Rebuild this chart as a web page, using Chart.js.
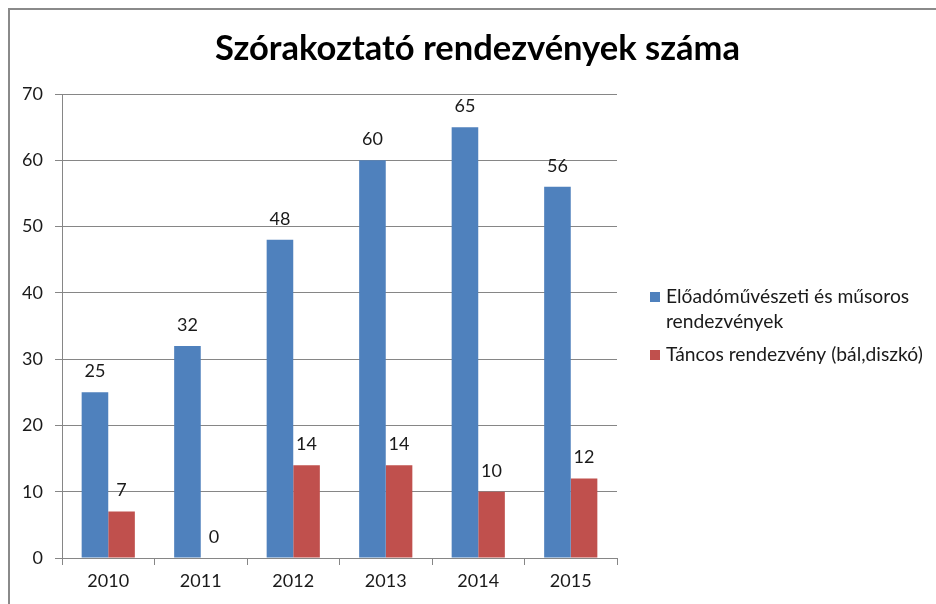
<!DOCTYPE html>
<html><head><meta charset="utf-8">
<script src="https://cdn.jsdelivr.net/npm/chart.js@4/dist/chart.umd.min.js"></script>
<style>html,body{margin:0;padding:0;background:#fff}#wrap{width:936px;height:604px;position:relative}canvas{display:block}</style>
</head><body><div id="wrap"><canvas id="c" width="936" height="604"></canvas></div>
<script>
const categories = ['2010', '2011', '2012', '2013', '2014', '2015'];
const performingArts = [25, 32, 48, 60, 65, 56];
const danceEvents = [7, 0, 14, 14, 10, 12];
const seriesNames = ['Előadóművészeti és műsoros rendezvények', 'Táncos rendezvény (bál,diszkó)'];
const legendLines = [['Előadóművészeti és műsoros', 'rendezvények'], ['Táncos rendezvény (bál,diszkó)']];
const yTicks = [0, 10, 20, 30, 40, 50, 60, 70];
const titleText = 'Szórakoztató rendezvények száma';

const FAMILY = 'Lato, "Open Sans", "DejaVu Sans", sans-serif';
const BLUE = '#4F81BD', RED = '#C0504D', GRID = '#868686', TEXT = '#1a1a1a';

function fitSize(ctx, text, weight, target) {
  ctx.font = weight + ' 100px ' + FAMILY;
  return 100 * target / ctx.measureText(text).width;
}

const decor = {
  id: 'decor',
  beforeDraw(chart) {
    const ctx = chart.ctx;
    ctx.save();
    ctx.fillStyle = '#fff';
    ctx.fillRect(0, 0, chart.width, chart.height);
    ctx.strokeStyle = '#8a8a8a';
    ctx.lineWidth = 2;
    ctx.beginPath();
    ctx.moveTo(9, 604); ctx.lineTo(9, 9); ctx.lineTo(936, 9);
    ctx.stroke();
    ctx.restore();
  },
  afterDraw(chart) {
    const ctx = chart.ctx;
    ctx.save();
    const ts = fitSize(ctx, titleText, 'bold', 525);
    ctx.font = 'bold ' + ts.toFixed(2) + 'px ' + FAMILY;
    ctx.fillStyle = '#000';
    ctx.textAlign = 'center';
    ctx.textBaseline = 'alphabetic';
    ctx.fillText(titleText, 477.5, 60);
    const ls = fitSize(ctx, legendLines[1][0], 'normal', 257);
    ctx.font = ls.toFixed(2) + 'px ' + FAMILY;
    ctx.textAlign = 'left';
    ctx.textBaseline = 'middle';
    const colors = [BLUE, RED];
    const ys = [297, 355];
    legendLines.forEach((lines, i) => {
      ctx.fillStyle = colors[i];
      ctx.fillRect(650, ys[i] - 5, 10, 10);
      ctx.fillStyle = TEXT;
      lines.forEach((ln, j) => ctx.fillText(ln, 666, ys[i] + j * 25));
    });
    ctx.restore();
  },
  afterDatasetsDraw(chart) {
    const ctx = chart.ctx;
    ctx.save();
    ctx.font = '18px ' + FAMILY;
    ctx.fillStyle = TEXT;
    ctx.textAlign = 'center';
    ctx.textBaseline = 'middle';
    chart.data.datasets.forEach((ds, i) => {
      chart.getDatasetMeta(i).data.forEach((el, j) => {
        ctx.fillText(String(ds.data[j]), el.x, el.y - 21);
      });
    });
    ctx.restore();
  }
};

new Chart(document.getElementById('c'), {
  type: 'bar',
  data: {
    labels: categories,
    datasets: [
      { label: seriesNames[0], data: performingArts, backgroundColor: BLUE, barPercentage: 1, categoryPercentage: 0.575 },
      { label: seriesNames[1], data: danceEvents, backgroundColor: RED, barPercentage: 1, categoryPercentage: 0.575 }
    ]
  },
  options: {
    responsive: false,
    animation: false,
    layout: { padding: { top: 94, right: 319, bottom: 6, left: 0 } },
    plugins: { legend: { display: false }, title: { display: false }, tooltip: { enabled: false } },
    scales: {
      x: {
        offset: true,
        grid: { display: true, drawOnChartArea: false, drawTicks: true, tickLength: 7, color: GRID, offset: true },
        border: { display: true, color: GRID, width: 1 },
        ticks: { color: TEXT, font: { family: FAMILY, size: 18 }, padding: 5, maxRotation: 0 },
        afterFit(s) { s.height = 40; }
      },
      y: {
        min: 0, max: 70,
        afterBuildTicks(s) { s.ticks = yTicks.map(v => ({ value: v })); },
        grid: { color: GRID, tickLength: 7, drawTicks: true },
        border: { display: true, color: GRID, width: 1 },
        ticks: { color: TEXT, font: { family: FAMILY, size: 18 }, padding: 12 },
        afterFit(s) { s.width = 62; }
      }
    }
  },
  plugins: [decor]
});
</script>
</body></html>
